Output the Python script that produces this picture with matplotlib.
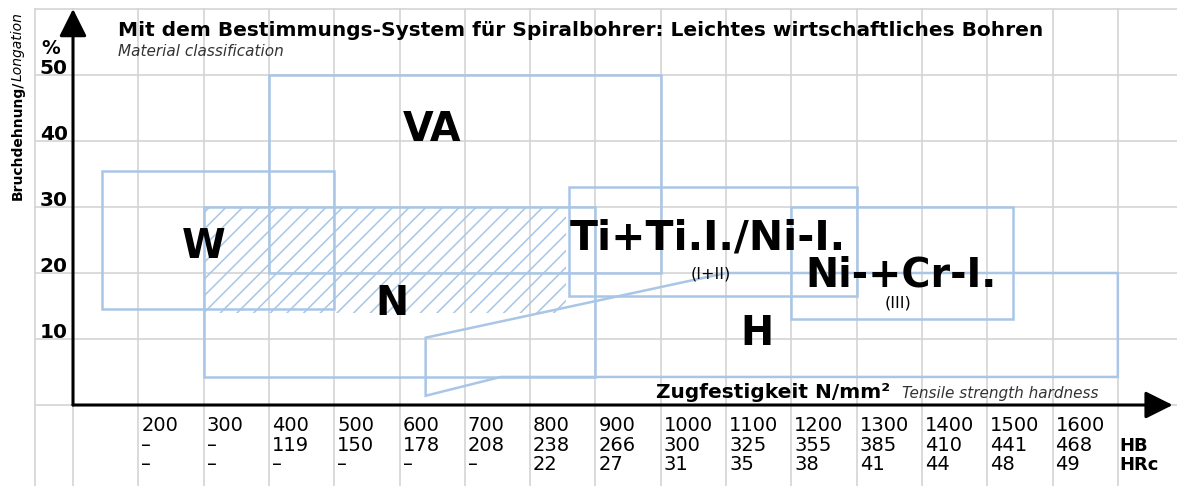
import matplotlib
matplotlib.use("Agg")
import matplotlib.pyplot as plt
from matplotlib.patches import Rectangle, Polygon

# Zugfestigkeit (N/mm²) columns and the hardness rows below them
tensile = [200, 300, 400, 500, 600, 700, 800, 900, 1000, 1100, 1200, 1300, 1400, 1500, 1600]
hb = ["–", "–", "119", "150", "178", "208", "238", "266", "300", "325", "355", "385", "410", "441", "468"]
hrc = ["–", "–", "–", "–", "–", "–", "22", "27", "31", "35", "38", "41", "44", "48", "49"]
elong_ticks = [10, 20, 30, 40, 50]

# material zones: tensile range x elongation range
zone_names = ["W", "VA", "N", "Ti+Ti.I./Ni-I.", "Ni-+Cr-I."]
zone_x0 = [145, 400, 300, 860, 1200]
zone_x1 = [500, 1000, 900, 1300, 1540]
zone_y0 = [14.5, 20, 4.25, 16.5, 13]
zone_y1 = [35.5, 50, 30, 33, 30]

# hatched part of N
hatch_x = [300, 855]
hatch_y = [14, 30]

# H zone outline
h_x = [640, 640, 1100, 1700, 1700, 755]
h_y = [1.4, 10.2, 20, 20, 4.25, 4.25]

blue = "#a9c6e6"
grid_c = "#d4d4d4"
plt.rcParams["hatch.linewidth"] = 1.1
plt.rcParams["hatch.color"] = blue

fig = plt.figure(figsize=(11.77, 4.86), dpi=100)
ax = fig.add_axes([0, 0, 1, 1])
ax.set_xlim(-11.8, 1790.6)
ax.set_ylim(-12.27, 61.36)
ax.axis("off")

# grid
for gx in [42] + list(range(100, 1800, 100)):
    ax.plot([gx, gx], [-12.3, 60], color=grid_c, lw=1.2, zorder=0)
for gy in range(0, 70, 10):
    ax.plot([42, 1790.6], [gy, gy], color=grid_c, lw=1.2, zorder=0)

# hatch
ax.add_patch(Rectangle((hatch_x[0], hatch_y[0]), hatch_x[1] - hatch_x[0], hatch_y[1] - hatch_y[0],
                       fill=False, hatch="//", edgecolor=blue, lw=0, zorder=1))

# zones
for x0, x1, y0, y1 in zip(zone_x0, zone_x1, zone_y0, zone_y1):
    ax.add_patch(Rectangle((x0, y0), x1 - x0, y1 - y0, fill=False, edgecolor=blue, lw=1.8, zorder=2))
ax.add_patch(Polygon(list(zip(h_x, h_y)), closed=True, fill=False, edgecolor=blue, lw=1.8, zorder=2))

# axes with arrows
arr = dict(arrowstyle="-|>,head_length=0.7,head_width=0.35", lw=2.2, color="black",
           mutation_scale=24, shrinkA=0, shrinkB=0)
ax.annotate("", xy=(100, 60.0), xytext=(100, 0), arrowprops=arr, zorder=5)
ax.annotate("", xy=(1784, 0), xytext=(100, 0), arrowprops=arr, zorder=5)

# title
ax.text(169, 55.9, "Mit dem Bestimmungs-System für Spiralbohrer: Leichtes wirtschaftliches Bohren",
        fontsize=14.5, fontweight="bold", va="baseline", ha="left")
ax.text(169, 52.9, "Material classification", fontsize=11, style="italic", color="#333333",
        va="baseline", ha="left")

# y axis labels
ax.text(66, 53.2, "%", fontsize=13.5, fontweight="bold", ha="center", va="baseline")
for t in elong_ticks:
    ax.text(92, t + 0.2, str(t), fontsize=14.5, fontweight="bold", ha="right", va="baseline")
ylab = ax.text(15.8, 31.0, "Bruchdehnung/", fontsize=10, fontweight="bold", rotation=90,
               ha="center", va="bottom")
ax.annotate("Longation", xy=(0.5, 1.0), xycoords=ylab, fontsize=10, style="italic",
            rotation=90, ha="center", va="bottom")

# x axis title
ax.text(993, 1.06, "Zugfestigkeit N/mm²", fontsize=14.5, fontweight="bold", va="baseline", ha="left")
ax.text(1369, 1.06, "Tensile strength hardness", fontsize=11, style="italic", color="#333333",
        va="baseline", ha="left")

# tick rows
for t, b, r in zip(tensile, hb, hrc):
    ax.text(t + 4.6, -3.94, str(t), fontsize=14, va="baseline", ha="left")
    ax.text(t + 4.6, -6.97, b, fontsize=14, va="baseline", ha="left")
    ax.text(t + 4.6, -9.85, r, fontsize=14, va="baseline", ha="left")
ax.text(1703, -6.97, "HB", fontsize=13, fontweight="bold", va="baseline", ha="left")
ax.text(1703, -9.85, "HRc", fontsize=13, fontweight="bold", va="baseline", ha="left")

# zone labels
big = dict(fontsize=28.5, fontweight="bold", va="baseline")
ax.text(300.6, 22.27, zone_names[0], ha="center", **big)
ax.text(650, 40.0, zone_names[1], ha="center", **big)
ax.text(588.5, 13.6, zone_names[2], ha="center", **big)
ax.text(1147.5, 9.1, "H", ha="center", **big)
ax.text(861, 23.6, zone_names[3], ha="left", fontsize=29.5, fontweight="bold", va="baseline")
ax.text(1221, 17.9, zone_names[4], ha="left", **big)
ax.text(1077, 19.1, "(I+II)", fontsize=11.5, ha="center", va="baseline")
ax.text(1363, 14.8, "(III)", fontsize=11.5, ha="center", va="baseline")

fig.savefig("out.png", dpi=100)
